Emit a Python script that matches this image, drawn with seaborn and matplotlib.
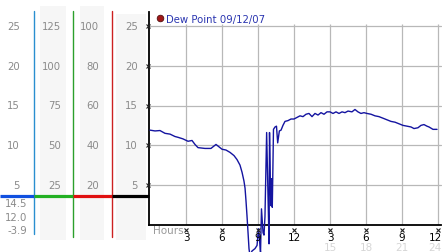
import numpy as np
import pandas as pd
import matplotlib
matplotlib.use("Agg")
import matplotlib.pyplot as plt
import seaborn as sns
from matplotlib.patches import Rectangle

# ---------------- data ----------------
hours = [0.0, 0.42, 0.83, 1.25, 1.67, 2.08, 2.33, 2.75, 3.17, 3.5, 3.75, 4.0, 4.58, 5.08,
         5.33, 5.5, 5.75, 6.0, 6.33, 6.67, 7.0, 7.25, 7.5, 7.67, 7.83, 7.92, 8.0, 8.08,
         8.17, 8.25, 8.33, 8.5, 8.75, 8.92, 9.04, 9.13, 9.21, 9.29, 9.42, 9.5, 9.58,
         9.72, 9.83, 9.92, 9.96, 10.04, 10.08, 10.14, 10.19, 10.23, 10.29, 10.42, 10.54,
         10.64, 10.78, 10.92, 11.08, 11.25, 11.5, 11.75, 12.0, 12.25, 12.5, 12.75, 13.0,
         13.25, 13.5, 13.75, 14.0, 14.25, 14.5, 14.75, 15.0, 15.25, 15.5, 15.75, 16.0,
         16.25, 16.5, 16.83, 17.08, 17.33, 17.58, 17.83, 18.08, 18.42, 18.75, 19.08,
         19.42, 19.75, 20.08, 20.42, 20.75, 21.08, 21.42, 21.75, 22.0, 22.33, 22.58,
         22.83, 23.08, 23.25, 23.58, 23.92]
dew_point = [11.9, 11.8, 11.85, 11.5, 11.4, 11.1, 11.0, 10.8, 10.5, 10.6, 10.1, 9.7, 9.6, 9.6,
             9.9, 10.1, 9.8, 9.5, 9.4, 9.1, 8.7, 8.2, 7.5, 6.6, 5.5, 4.6, 3.0, 1.2,
             -1.0, -3.0, -3.9, -3.3, -3.0, -2.6, -0.5, -2.0, -3.5, 2.0, -1.0, -1.3, 1.0,
             11.6, 4.0, -2.4, 11.6, 4.5, 2.4, 5.8, 2.2, 6.0, 12.0, 12.3, 12.4,
             10.3, 11.8, 11.9, 12.5, 13.0, 13.1, 13.3, 13.3, 13.5, 13.7, 13.6, 13.9,
             14.0, 13.6, 14.0, 13.8, 14.1, 13.9, 14.2, 14.2, 14.0, 14.2, 14.0, 14.2,
             14.1, 14.3, 14.2, 14.5, 14.2, 14.0, 14.1, 14.0, 13.9, 13.7, 13.6,
             13.4, 13.2, 13.0, 12.9, 12.7, 12.5, 12.4, 12.3, 12.1, 12.2, 12.5,
             12.6, 12.4, 12.3, 12.0, 12.0]

series_label = "Dew Point 09/12/07"
y_ticks = [5, 10, 15, 20, 25]
scale_cols = [[5, 10, 15, 20, 25], [25, 50, 75, 100, 125], [20, 40, 60, 80, 100], [5, 10, 15, 20, 25]]
x_ticks = [3, 6, 9, 12, 15, 18, 21, 24]
x_tick_labels = ["3", "6", "9", "12", "3", "6", "9", "12"]
x_tick_labels2 = ["15", "18", "21", "24"]
summary_labels = ["14.5", "12.0", "-3.9"]   # max, current, min

# ---------------- figure ----------------
W, H = 442, 253
sns.set_theme(style="white")
plt.rcParams['font.family'] = ['DejaVu Sans']
fig = plt.figure(figsize=(W / 100, H / 100), dpi=100)
fig.patch.set_facecolor("white")

def fx(px):
    return px / W

def fy(py):
    return 1 - py / H

y0_px = 225.75       # pixel of value 0
ppu = 7.95           # pixels per unit
top_px = 13
ymax = (y0_px - top_px) / ppu

def val(py):
    return (y0_px - py) / ppu

ax = fig.add_axes([fx(149), fy(y0_px), fx(441) - fx(149), (y0_px - top_px) / H])
ax.set_facecolor("none")
ax.set_ylim(0, ymax)
ax.set_xlim(-1 / 12, 24.25)

grid_c = "#b8b8b8"
for yv in y_ticks:
    ax.axhline(yv, color=grid_c, lw=0.9, zorder=1)
ax.vlines(x_ticks, 0, 25.3, color=grid_c, lw=0.9, zorder=1)

df = pd.DataFrame({"hours": hours, "dew": dew_point})
sns.lineplot(data=df, x="hours", y="dew", ax=ax, color="#1414a0", lw=1.0,
             estimator=None, sort=False, zorder=3)
for ln in ax.lines:
    ln.set_clip_on(False)

for s in ["top", "right"]:
    ax.spines[s].set_visible(False)
for s in ["left", "bottom"]:
    ax.spines[s].set_color("black")
    ax.spines[s].set_linewidth(1.3)
ax.set_xticks([])
ax.set_yticks([])
ax.set_xlabel("")
ax.set_ylabel("")

# small tick glyphs
ax.plot([-0.2] * len(y_ticks), y_ticks, ls="none", marker="x", ms=2.6, mew=0.8,
        color="#222222", clip_on=False, zorder=4)
ax.plot(x_ticks, [val(230.5)] * len(x_ticks), ls="none", marker="x", ms=2.6, mew=0.8,
        color="#222222", clip_on=False, zorder=4)
for i, (xv, lab) in enumerate(zip(x_ticks, x_tick_labels)):
    last = i == len(x_ticks) - 1
    ax.text(24.3 if last else xv, val(238.5), lab, ha="right" if last else "center",
            va="center", fontsize=7.5, color="black", clip_on=False)
for i, (xv, lab) in enumerate(zip(x_ticks[4:], x_tick_labels2)):
    last = i == len(x_tick_labels2) - 1
    ax.text(24.3 if last else xv, val(248), lab, ha="right" if last else "center",
            va="center", fontsize=7.5, color="#d6d6d6", clip_on=False)
fig.text(fx(153), fy(231.5), "Hours", ha="left", va="center", fontsize=7.5, color="#999999")

# legend
fig.patches.append(matplotlib.patches.Circle((fx(160.5) * W, fy(19.5) * H), 3.3,
                                             transform=None, facecolor="#a01818",
                                             edgecolor="#551010", lw=0.6))
fig.text(fx(166), fy(19.5), series_label, ha="left", va="center", fontsize=7.3,
         color="#2a35b0")

# ---------------- left scale panel ----------------
axl = fig.add_axes([0, fy(y0_px), fx(149), (y0_px - top_px) / H])
axl.set_xlim(0, 149)
axl.set_ylim(0, ymax)
axl.axis("off")

band_c = "#f6f6f6"
for x0, x1, ytop in [(40, 66, 7), (80, 104, 7), (116, 146, 15)]:
    axl.add_patch(Rectangle((x0, val(240.5)), x1 - x0, val(ytop) - val(240.5),
                            facecolor=band_c, edgecolor="none", clip_on=False, zorder=0))

label_right = [20, 61, 99, 138]
for xr, col in zip(label_right, scale_cols):
    for yv, lab in zip(y_ticks, col):
        axl.text(xr, yv, str(lab), ha="right", va="center", fontsize=7.3, color="#8a8a8a",
                 clip_on=False)

for xv, c, yb in [(33.5, "#2a8fd0", 235), (72.5, "#2ca02c", 238), (111.5, "#cc2020", 238)]:
    axl.plot([xv, xv], [val(12), val(yb)], color=c, lw=1.0, clip_on=False, zorder=2)

yh = val(196.7)
for x0, x1, c in [(0, 33.5, "#1050e0"), (33.5, 72.5, "#22b022"), (72.5, 111.5, "#e01010"),
                  (111.5, 149, "#000000")]:
    axl.plot([x0, x1], [yh, yh], color=c, lw=2.3, solid_capstyle="butt", clip_on=False,
             zorder=3)

for py, lab in zip([204, 218, 231.5], summary_labels):
    fig.text(fx(27.5), fy(py), lab, ha="right", va="center", fontsize=7.3, color="#8a8a8a")

fig.savefig("out.png", dpi=100, facecolor="white")
